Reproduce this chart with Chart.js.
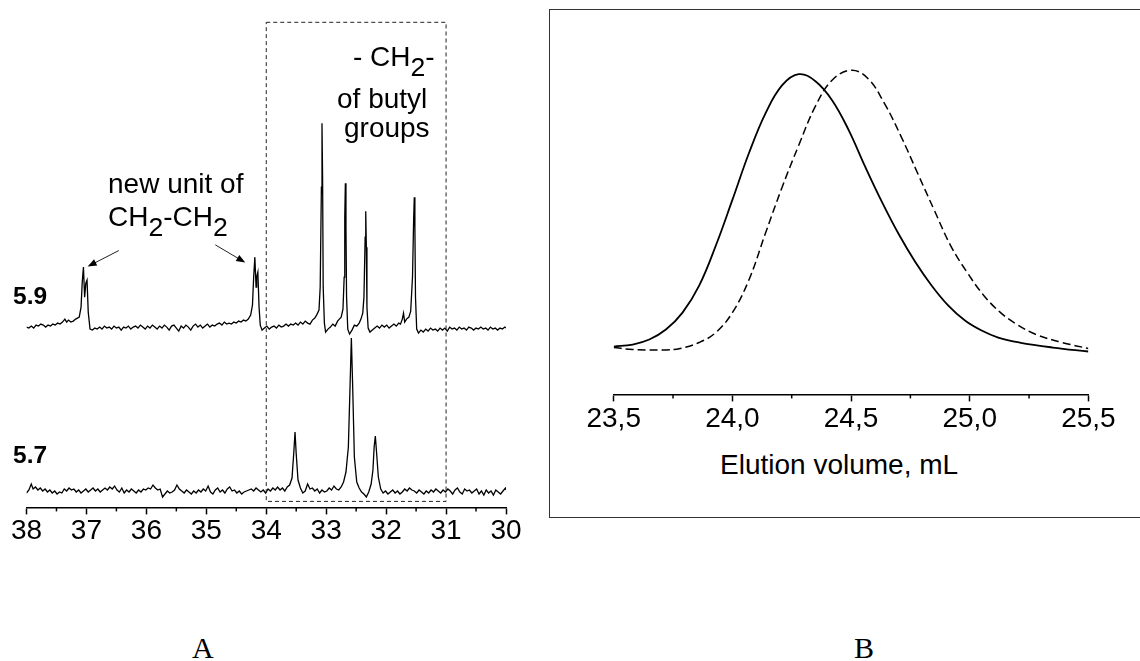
<!DOCTYPE html>
<html>
<head>
<meta charset="utf-8">
<script src="https://cdn.jsdelivr.net/npm/chart.js@4.4.1/dist/chart.umd.min.js"></script>
<style>
body{margin:0;background:#fff;width:1140px;height:661px;overflow:hidden;position:relative;font-family:"Liberation Sans",Arial,sans-serif;color:#000}
.wrap{position:absolute}
.t{position:absolute;font-size:28px;line-height:1;white-space:nowrap}
.t .s{font-size:0.95em;position:relative;top:0.36em}
.b{font-weight:bold;font-size:24.5px}
.serif{font-family:"Liberation Serif","Times New Roman",serif;font-size:30px}
#frameB{position:absolute;left:549px;top:9px;width:600px;height:507px;border:1.5px solid #333}
</style>
</head>
<body>
<div id="frameB"></div>
<div class="wrap" style="left:0;top:0;width:540px;height:548px"><canvas id="nmr"></canvas></div>
<div class="wrap" style="left:540px;top:0;width:600px;height:437px"><canvas id="gpc"></canvas></div>

<div class="t" style="left:353px;top:43px">- CH<span class="s">2</span>-</div>
<div class="t" style="left:337px;top:85px">of butyl</div>
<div class="t" style="left:344px;top:114px">groups</div>
<div class="t" style="left:108px;top:170px">new unit of</div>
<div class="t" style="left:108px;top:203px">CH<span class="s">2</span>-CH<span class="s">2</span></div>
<div class="t b" style="left:13px;top:284px">5.9</div>
<div class="t b" style="left:13px;top:443px">5.7</div>
<div class="t" style="left:720px;top:451px">Elution volume, mL</div>
<div class="t serif" style="left:192px;top:633px">A</div>
<div class="t serif" style="left:854px;top:633px">B</div>

<script>
// 13C NMR traces, [ppm, intensity above own baseline]
const trace59 = [
  [38.00,0],[37.96,-1],[37.92,1],[37.88,-1],[37.84,2],[37.80,1],[37.76,3],[37.72,2],[37.68,0],[37.64,2],
  [37.60,1],[37.56,3],[37.52,2],[37.48,4],[37.44,3],[37.40,5],[37.36,8],[37.33,5],[37.30,7],[37.26,5],
  [37.22,6],[37.18,8],[37.15,9],[37.12,10],[37.09,20],[37.07,45],[37.05,60],[37.03,30],[37.01,44],[36.99,47],
  [36.97,15],[36.94,-2],[36.90,-3],[36.86,-1],[36.82,-2],[36.78,0],[36.74,-2],[36.70,1],[36.66,-1],[36.62,0],
  [36.58,-2],[36.54,1],[36.50,-1],[36.46,0],[36.42,-3],[36.38,0],[36.34,-1],[36.30,1],[36.26,-2],[36.22,0],
  [36.18,1],[36.14,-1],[36.10,2],[36.06,0],[36.02,-2],[35.98,1],[35.94,-1],[35.90,2],[35.86,0],[35.82,-2],
  [35.78,1],[35.74,-1],[35.70,2],[35.66,0],[35.62,-3],[35.58,1],[35.54,2],[35.50,-1],[35.46,-4],[35.42,1],
  [35.38,-1],[35.34,2],[35.30,0],[35.26,-3],[35.22,1],[35.18,3],[35.14,0],[35.10,2],[35.06,-1],[35.02,1],
  [34.98,3],[34.94,0],[34.90,2],[34.86,1],[34.82,3],[34.78,4],[34.74,2],[34.70,5],[34.66,3],[34.62,4],
  [34.58,3],[34.54,5],[34.50,4],[34.46,6],[34.42,5],[34.38,7],[34.34,6],[34.30,8],[34.26,12],[34.23,22],
  [34.21,50],[34.19,70],[34.17,40],[34.16,50],[34.14,55],[34.12,20],[34.10,2],[34.07,-3],[34.03,-1],[33.99,1],
  [33.95,-2],[33.91,0],[33.87,1],[33.83,-1],[33.79,2],[33.75,0],[33.71,1],[33.67,3],[33.63,1],[33.59,3],
  [33.55,2],[33.51,4],[33.47,2],[33.43,5],[33.39,3],[33.35,6],[33.31,4],[33.27,3],[33.23,7],[33.19,9],
  [33.16,12],[33.12,17],[33.10,40],[33.08,140],[33.07,204],[33.06,150],[33.05,40],[33.03,4],[33.01,-5],[32.97,-2],
  [32.93,0],[32.89,3],[32.85,1],[32.81,6],[32.78,8],[32.75,10],[32.72,18],[32.70,50],[32.69,110],[32.68,144],
  [32.67,100],[32.66,30],[32.64,-2],[32.61,-7],[32.57,-3],[32.53,2],[32.49,1],[32.45,4],[32.42,8],[32.39,14],
  [32.37,30],[32.35,90],[32.34,116],[32.33,80],[32.32,20],[32.30,-1],[32.27,-5],[32.23,-3],[32.19,-1],[32.15,1],
  [32.11,-1],[32.07,2],[32.03,0],[31.99,2],[31.95,-1],[31.91,1],[31.87,3],[31.83,1],[31.79,4],[31.76,3],
  [31.73,8],[31.71,14],[31.69,5],[31.66,8],[31.62,10],[31.59,16],[31.56,50],[31.54,110],[31.53,130],[31.52,100],
  [31.51,30],[31.49,-2],[31.46,-6],[31.42,-3],[31.38,-5],[31.34,-2],[31.30,-4],[31.26,-1],[31.22,-3],[31.18,-2],
  [31.14,-4],[31.10,-1],[31.06,-3],[31.02,-1],[30.98,-4],[30.94,0],[30.90,-2],[30.86,-1],[30.82,-3],[30.78,0],
  [30.74,-2],[30.70,-1],[30.66,-3],[30.62,0],[30.58,-1],[30.54,-3],[30.50,-1],[30.46,-2],[30.42,0],[30.38,-2],
  [30.34,-1],[30.30,-3],[30.26,0],[30.22,-2],[30.18,-1],[30.14,-3],[30.10,-1],[30.06,-2],[30.02,0],[30.00,-1]
];
const trace57 = [
  [38.00,-1],[37.96,2],[37.92,8],[37.89,3],[37.85,5],[37.81,2],[37.77,4],[37.73,1],[37.69,3],[37.65,0],
  [37.61,2],[37.57,-1],[37.53,1],[37.49,-2],[37.45,0],[37.41,-1],[37.37,3],[37.33,1],[37.29,4],[37.25,2],
  [37.21,3],[37.17,0],[37.13,2],[37.09,-1],[37.05,1],[37.01,3],[36.97,0],[36.93,2],[36.89,4],[36.85,1],
  [36.81,3],[36.77,0],[36.73,2],[36.69,4],[36.65,2],[36.61,5],[36.57,3],[36.53,6],[36.49,2],[36.45,0],
  [36.41,4],[36.37,-1],[36.33,2],[36.29,0],[36.25,3],[36.21,1],[36.17,-1],[36.13,2],[36.09,0],[36.05,3],
  [36.01,2],[35.97,4],[35.93,3],[35.89,7],[35.85,4],[35.81,2],[35.77,3],[35.73,-5],[35.69,-2],[35.65,1],
  [35.61,-1],[35.57,0],[35.53,2],[35.49,7],[35.45,3],[35.41,1],[35.37,-1],[35.33,2],[35.29,0],[35.25,-2],
  [35.21,1],[35.17,-1],[35.13,2],[35.09,0],[35.05,3],[35.01,1],[34.97,6],[34.93,0],[34.89,-2],[34.85,2],
  [34.81,4],[34.77,0],[34.73,2],[34.69,-1],[34.65,3],[34.61,5],[34.57,1],[34.53,2],[34.49,-1],[34.45,1],
  [34.41,-2],[34.37,0],[34.33,1],[34.29,2],[34.25,3],[34.21,1],[34.17,4],[34.13,2],[34.09,0],[34.05,2],
  [34.01,-1],[33.97,3],[33.93,1],[33.89,4],[33.85,2],[33.81,5],[33.77,2],[33.73,4],[33.69,1],[33.65,5],
  [33.61,7],[33.57,14],[33.54,40],[33.52,60],[33.50,38],[33.47,12],[33.43,4],[33.39,-1],[33.35,1],[33.31,8],
  [33.27,3],[33.23,4],[33.19,1],[33.15,3],[33.11,-1],[33.07,2],[33.03,0],[32.99,1],[32.95,4],[32.91,2],
  [32.87,6],[32.83,3],[32.79,2],[32.75,5],[32.71,10],[32.67,20],[32.63,45],[32.60,110],[32.58,154],[32.56,110],
  [32.53,35],[32.49,10],[32.45,4],[32.41,0],[32.37,-2],[32.33,-5],[32.29,0],[32.25,8],[32.22,22],[32.20,45],
  [32.18,56],[32.16,40],[32.13,15],[32.09,3],[32.05,-1],[32.01,1],[31.97,-2],[31.93,0],[31.89,2],[31.85,-1],
  [31.81,1],[31.77,-2],[31.73,0],[31.69,3],[31.65,1],[31.61,4],[31.57,2],[31.53,1],[31.49,-1],[31.45,2],
  [31.41,0],[31.37,-2],[31.33,1],[31.29,-1],[31.25,2],[31.21,0],[31.17,3],[31.13,1],[31.09,-1],[31.05,2],
  [31.01,0],[30.97,3],[30.93,1],[30.89,-2],[30.85,2],[30.81,4],[30.77,0],[30.73,-2],[30.69,3],[30.65,1],
  [30.61,2],[30.57,-1],[30.53,1],[30.49,3],[30.45,-2],[30.41,1],[30.37,-3],[30.33,2],[30.29,-1],[30.25,1],
  [30.21,-3],[30.17,2],[30.13,0],[30.09,-2],[30.05,1],[30.01,4],[30.00,2]
];
const offset59 = 165
const offset57 = 0

// dashed frame round the butyl region, and the two arrows
const boxPpm = [34, 31]
const boxInt = [-9.4, 470]
const arrowFrom = [[36.46, 241.6], [34.85, 247.3]]
const arrowTo = [[36.98, 225.6], [34.35, 229.6]]

// GPC traces, [elution volume mL, detector response]
const gpcSolid = [
  [23.50,48],[23.58,50],[23.65,55],[23.72,65],[23.79,82],[23.86,109],[23.93,149],[24.00,195],[24.07,242],
  [24.14,282],[24.21,310],[24.28,321],[24.35,314],[24.42,295],[24.49,265],[24.56,228],[24.63,193],
  [24.70,161],[24.77,133],[24.84,109],[24.91,89],[24.98,74],[25.05,64],[25.12,57],[25.21,52],[25.35,47],[25.50,43]
];
const gpcDashed = [
  [23.50,47],[23.58,45],[23.65,44.5],[23.72,44.6],[23.78,46],[23.86,52],[23.93,62],[24.00,82],[24.07,115],
  [24.14,162],[24.21,208],[24.28,250],[24.35,289],[24.42,315],[24.50,325],[24.57,317],[24.64,292],
  [24.71,259],[24.78,222],[24.85,185],[24.92,149],[24.99,122],[25.06,99],[25.13,82],[25.20,70],[25.28,60],
  [25.39,52],[25.50,46]
];

const font = { family: '"Liberation Sans", Arial, sans-serif', size: 28 }

const toXY = (arr, off) => arr.map(p => ({ x: p[0], y: p[1] + off }))

const minorTicks = {
  id: 'minorTicks',
  afterDraw(chart, args, opts) {
    const s = chart.scales.x
    const ctx = chart.ctx
    ctx.save()
    ctx.strokeStyle = '#000'
    ctx.lineWidth = 1.5
    for (const t of s.ticks) {
      if (opts.isMajor(t.value)) continue
      const x = s.getPixelForValue(t.value)
      ctx.beginPath()
      ctx.moveTo(x, s.top)
      ctx.lineTo(x, s.top + opts.len)
      ctx.stroke()
    }
    ctx.restore()
  }
}

const nmrMarks = {
  id: 'nmrMarks',
  afterDatasetsDraw(chart) {
    const x = chart.scales.x, y = chart.scales.y, ctx = chart.ctx
    ctx.save()
    ctx.strokeStyle = '#222'
    ctx.lineWidth = 1
    ctx.setLineDash([4, 3])
    const x1 = x.getPixelForValue(boxPpm[0]), x2 = x.getPixelForValue(boxPpm[1])
    const y1 = y.getPixelForValue(boxInt[1]), y2 = y.getPixelForValue(boxInt[0])
    ctx.strokeRect(x1, y1, x2 - x1, y2 - y1)
    ctx.setLineDash([])
    ctx.fillStyle = '#000'
    for (let i = 0; i < arrowFrom.length; i++) {
      const ax = x.getPixelForValue(arrowFrom[i][0]), ay = y.getPixelForValue(arrowFrom[i][1])
      const bx = x.getPixelForValue(arrowTo[i][0]), by = y.getPixelForValue(arrowTo[i][1])
      const ang = Math.atan2(by - ay, bx - ax)
      ctx.beginPath()
      ctx.moveTo(ax, ay)
      ctx.lineTo(bx - 6 * Math.cos(ang), by - 6 * Math.sin(ang))
      ctx.stroke()
      ctx.beginPath()
      ctx.moveTo(bx, by)
      ctx.lineTo(bx - 9 * Math.cos(ang) + 3.5 * Math.sin(ang), by - 9 * Math.sin(ang) - 3.5 * Math.cos(ang))
      ctx.lineTo(bx - 9 * Math.cos(ang) - 3.5 * Math.sin(ang), by - 9 * Math.sin(ang) + 3.5 * Math.cos(ang))
      ctx.closePath()
      ctx.fill()
    }
    ctx.restore()
  }
}

const isInt = v => Math.abs(v - Math.round(v)) < 1e-6
const isHalf = v => Math.abs(v * 2 - Math.round(v * 2)) < 1e-6

new Chart(document.getElementById('nmr').getContext('2d'), {
  type: 'line',
  data: {
    datasets: [
      { data: toXY(trace59, offset59), borderColor: '#000', borderWidth: 1.3, pointRadius: 0, tension: 0 },
      { data: toXY(trace57, offset57), borderColor: '#000', borderWidth: 1.3, pointRadius: 0, tension: 0 }
    ]
  },
  options: {
    animation: false,
    responsive: true,
    maintainAspectRatio: false,
    layout: { padding: { left: 26.5, right: 34, top: 20, bottom: 0 } },
    plugins: {
      legend: { display: false },
      tooltip: { enabled: false },
      minorTicks: { len: 4, isMajor: isInt }
    },
    scales: {
      x: {
        type: 'linear', reverse: true, min: 30, max: 38,
        border: { color: '#000', width: 1.5 },
        grid: { drawOnChartArea: false, tickLength: 7, tickWidth: 1.5,
          tickColor: c => isInt(c.tick.value) ? '#000' : 'rgba(0,0,0,0)' },
        ticks: { stepSize: 0.5, autoSkip: false, maxRotation: 0, padding: 0, color: '#000', font: font,
          callback: v => isInt(v) ? Math.round(v) : '' }
      },
      y: { display: false, min: -15.4, max: 472.3 }
    }
  },
  plugins: [minorTicks, nmrMarks]
})

new Chart(document.getElementById('gpc').getContext('2d'), {
  type: 'line',
  data: {
    datasets: [
      { data: toXY(gpcSolid, 0), borderColor: '#000', borderWidth: 1.8, pointRadius: 0, tension: 0.4 },
      { data: toXY(gpcDashed, 0), borderColor: '#000', borderWidth: 1.5, borderDash: [8, 4], pointRadius: 0, tension: 0.4 }
    ]
  },
  options: {
    animation: false,
    responsive: true,
    maintainAspectRatio: false,
    layout: { padding: { left: 73.7, right: 51.6, top: 40, bottom: 0 } },
    plugins: {
      legend: { display: false },
      tooltip: { enabled: false },
      minorTicks: { len: 4, isMajor: isHalf }
    },
    scales: {
      x: {
        type: 'linear', min: 23.5, max: 25.5,
        border: { color: '#000', width: 1.5 },
        grid: { drawOnChartArea: false, tickLength: 7, tickWidth: 1.5,
          tickColor: c => isHalf(c.tick.value) ? '#000' : 'rgba(0,0,0,0)' },
        ticks: { stepSize: 0.25, autoSkip: false, maxRotation: 0, padding: 1, color: '#000', font: font,
          callback: v => isHalf(v) ? v.toFixed(1).replace('.', ',') : '' }
      },
      y: { display: false, min: 0, max: 355.3 }
    }
  },
  plugins: [minorTicks]
})
</script>
</body>
</html>
